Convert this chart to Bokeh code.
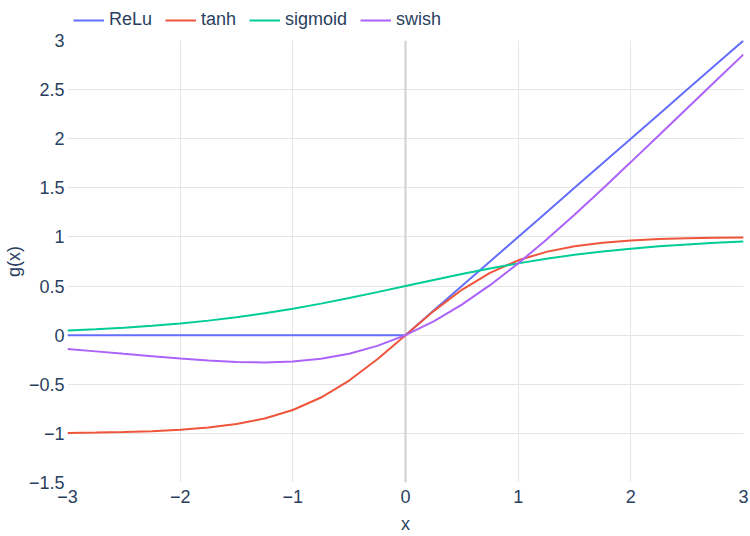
from bokeh.plotting import figure
from bokeh.layouts import column
from bokeh.models import FixedTicker, Span, Legend, LegendItem
from bokeh.embed import file_html
from bokeh.resources import INLINE

# ---- data ----
x_vals = [-3, -2.75, -2.5, -2.25, -2, -1.75, -1.5, -1.25, -1, -0.75, -0.5, -0.25, 0,
          0.25, 0.5, 0.75, 1, 1.25, 1.5, 1.75, 2, 2.25, 2.5, 2.75, 3]
relu_vals = [0, 0, 0, 0, 0, 0, 0, 0, 0, 0, 0, 0, 0,
             0.25, 0.5, 0.75, 1, 1.25, 1.5, 1.75, 2, 2.25, 2.5, 2.75, 3]
tanh_vals = [-0.995, -0.992, -0.987, -0.978, -0.964, -0.941, -0.905, -0.848, -0.762,
             -0.635, -0.462, -0.245, 0, 0.245, 0.462, 0.635, 0.762, 0.848, 0.905,
             0.941, 0.964, 0.978, 0.987, 0.992, 0.995]
sigmoid_vals = [0.047, 0.060, 0.076, 0.095, 0.119, 0.148, 0.182, 0.223, 0.269, 0.321,
                0.378, 0.438, 0.5, 0.562, 0.622, 0.679, 0.731, 0.777, 0.818, 0.852,
                0.881, 0.905, 0.924, 0.940, 0.953]
swish_vals = [-0.142, -0.165, -0.190, -0.214, -0.238, -0.259, -0.273, -0.278, -0.269,
              -0.241, -0.189, -0.109, 0, 0.141, 0.311, 0.509, 0.731, 0.971, 1.227,
              1.491, 1.762, 2.036, 2.310, 2.585, 2.858]
series_names = ["ReLu", "tanh", "sigmoid", "swish"]
series_colors = ["#636efa", "#EF553B", "#00cc96", "#ab63fa"]
x_ticks = [-3, -2, -1, 0, 1, 2, 3]
y_ticks = [-1.5, -1, -0.5, 0, 0.5, 1, 1.5, 2, 2.5, 3]

FONT = "Liberation Sans"
TXT = "#2a3f5f"

def lab(v):
    s = ("%g" % v)
    return s.replace("-", "\u2212")

all_series = [relu_vals, tanh_vals, sigmoid_vals, swish_vals]

# ---- main plot ----
p = figure(width=750, height=506, x_range=(-3, 3), y_range=(-1.5, 3),
           output_backend="svg", toolbar_location=None,
           min_border_left=66, min_border_top=10, min_border_right=7, min_border_bottom=53,
           background_fill_color="white", border_fill_color="white")
p.outline_line_color = None

for ys, col in zip(all_series, series_colors):
    p.line(x_vals, ys, line_color=col, line_width=2)

# grids (interior ticks only)
p.xgrid.ticker = FixedTicker(ticks=[t for t in x_ticks if t not in (x_ticks[0], x_ticks[-1], 0)])
p.ygrid.ticker = FixedTicker(ticks=y_ticks[1:-1])
p.xgrid.grid_line_color = "#e5e5e5"
p.ygrid.grid_line_color = "#e5e5e5"
p.xgrid.grid_line_width = 1
p.ygrid.grid_line_width = 1
p.add_layout(Span(location=0, dimension="height", line_color="#cfcfcf", line_width=2,
                  level="underlay"), "center")

for ax, ticks, label in ((p.xaxis[0], x_ticks, "x"), (p.yaxis[0], y_ticks, "g(x)")):
    ax.ticker = FixedTicker(ticks=ticks)
    ax.major_label_overrides = {t: lab(t) for t in ticks}
    ax.axis_label = label
    ax.axis_line_color = None
    ax.major_tick_line_color = None
    ax.minor_tick_line_color = None
    ax.major_tick_out = 0
    ax.major_tick_in = 0
    ax.minor_tick_out = 0
    ax.minor_tick_in = 0
    ax.major_label_text_font = FONT
    ax.major_label_text_font_size = "18px"
    ax.major_label_text_color = TXT
    ax.axis_label_text_font = FONT
    ax.axis_label_text_font_size = "18px"
    ax.axis_label_text_color = TXT
    ax.axis_label_text_font_style = "normal"

p.xaxis.major_label_standoff = 7
p.xaxis.axis_label_standoff = 8
p.yaxis.major_label_standoff = 3
p.yaxis.axis_label_standoff = 2

# ---- legend strip above the plot (its frame is aligned with the main frame) ----
lg = figure(width=750, height=30, x_range=(-3, 3), y_range=(10, 11),
            output_backend="svg", toolbar_location=None,
            min_border_left=66, min_border_right=7, min_border_top=0, min_border_bottom=0,
            background_fill_color="white", border_fill_color="white")
lg.outline_line_color = None
lg.axis.visible = False
lg.grid.visible = False
# same series, drawn outside this strip's visible range: only their legend swatches show
lg_renderers = [lg.line(x_vals, ys, line_color=col, line_width=2)
                for ys, col in zip(all_series, series_colors)]
legend = Legend(items=[LegendItem(label=n, renderers=[r]) for n, r in zip(series_names, lg_renderers)],
                orientation="horizontal", location=(6, 0),
                padding=0, margin=0, spacing=13, label_standoff=5,
                glyph_width=31, glyph_height=20, label_height=20,
                label_text_font=FONT, label_text_font_size="18px", label_text_color=TXT,
                background_fill_alpha=0, border_line_alpha=0)
lg.add_layout(legend, "center")

layout = column(lg, p, spacing=0)
open("out.html", "w").write(file_html(layout, INLINE))
